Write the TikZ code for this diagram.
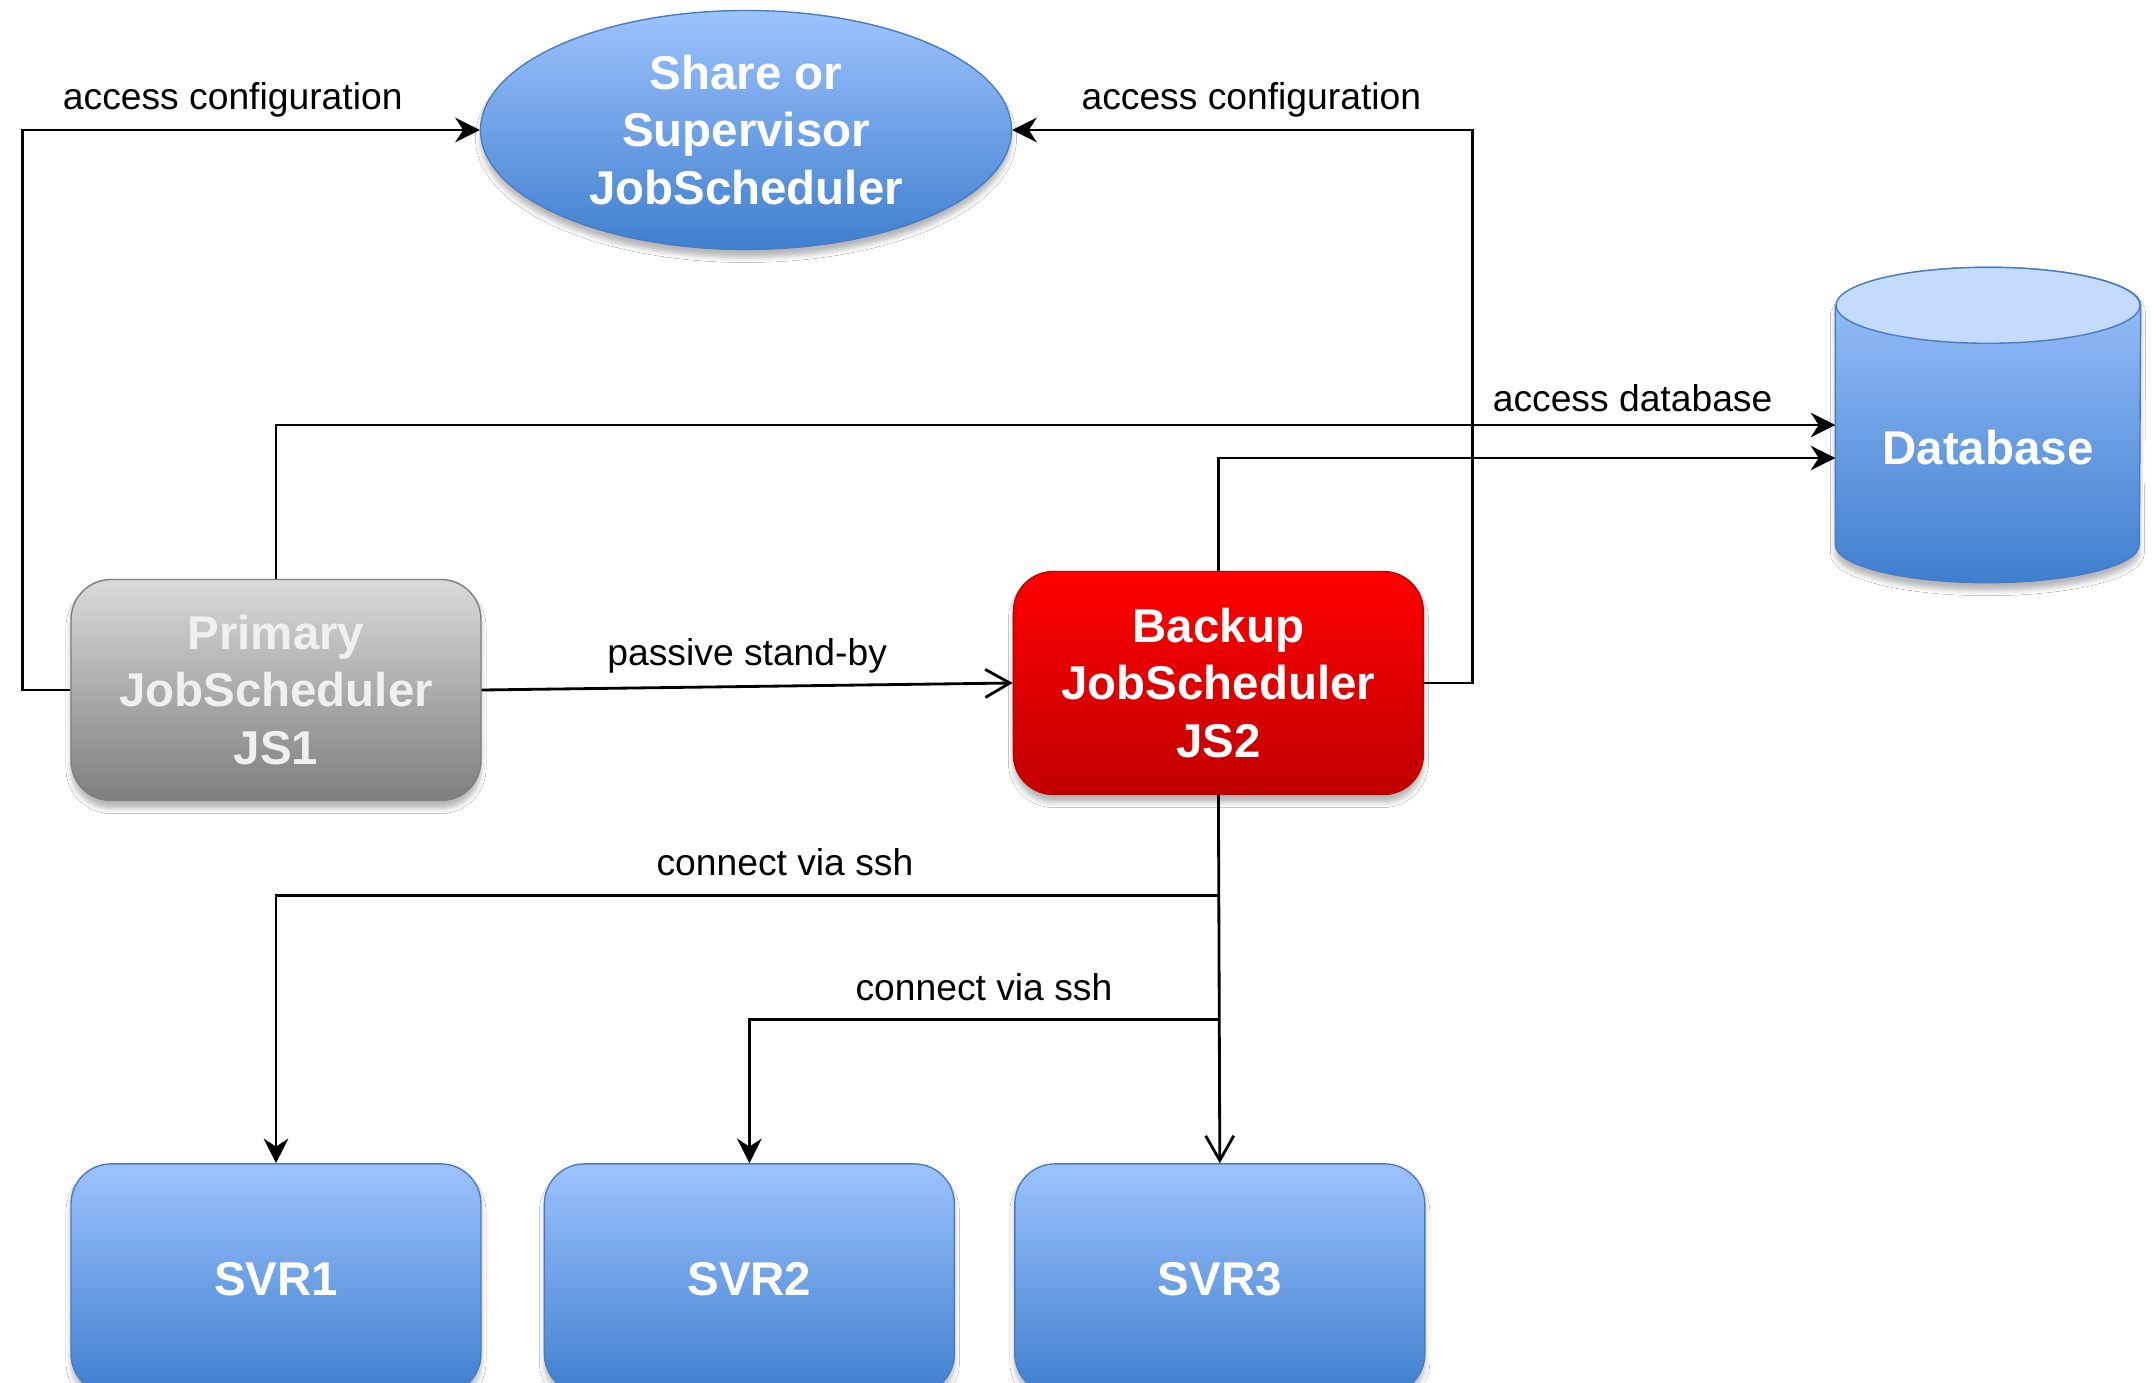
\documentclass[tikz,border=0pt]{standalone}
\usepackage{fontspec}
\setmainfont{Liberation Sans}
\usetikzlibrary{shapes.geometric, arrows.meta, calc, positioning, shadows.blur, backgrounds}
\definecolor{blueTop}{HTML}{9DC3FD}
\definecolor{blueBottom}{HTML}{3F7FCE}
\definecolor{blueEdge}{HTML}{4A7BC4}
\definecolor{blueLid}{HTML}{C3DBFD}
\definecolor{greyTop}{HTML}{DADADA}
\definecolor{greyBottom}{HTML}{7E7E7E}
\definecolor{redTop}{HTML}{FF0000}
\definecolor{redBottom}{HTML}{C00000}
\newcommand{\boxfont}{\fontsize{13.5}{16.4}\selectfont\bfseries}
\tikzstyle{softshadow} = [blur shadow={shadow xshift=0pt, shadow yshift=-0.08cm, shadow blur radius=0.05cm, shadow blur steps=5, shadow opacity=28}]
\tikzstyle{job} = [rectangle, rounded corners=0.4cm, minimum width=4.1cm, minimum height=2.21cm, align=center, text=white, font=\boxfont, softshadow]
\tikzstyle{server} = [job, draw=blueEdge, top color=blueTop, bottom color=blueBottom, minimum height=2.3cm]
\tikzstyle{linktext} = [font=\fontsize{10.6}{12.7}\selectfont, above]
\tikzstyle{arrow} = [line width=0.8pt, -{Stealth[length=7pt, width=7pt]}]
\tikzstyle{openarrow} = [line width=0.8pt, -{Straight Barb[length=7pt, width=8pt]}]

\begin{document}
\begin{tikzpicture}
	\useasboundingbox (0,0) rectangle (21.56,-13.83);
	\node (Share) [ellipse, draw=blueEdge, top color=blueTop, bottom color=blueBottom, minimum width=5.31cm, minimum height=2.39cm, inner sep=0pt, align=center, text=white, font=\boxfont, softshadow] at (7.46,-1.30) {Share or\\Supervisor\\JobScheduler};
	\node (Primary) [job, draw=greyBottom, top color=greyTop, bottom color=greyBottom, text=white!94!black] at (2.76,-6.90) {Primary\\JobScheduler\\JS1};
	\node (Backup) [job, draw=redBottom, top color=redTop, bottom color=redBottom, minimum height=2.23cm, right=5.31cm of Primary, yshift=0.07cm] {Backup\\JobScheduler\\JS2};
	\node (SVR1) [server, below=3.62cm of Primary] {SVR1};
	\node (SVR2) [server, right=0.62cm of SVR1] {SVR2};
	\node (SVR3) [server, right=0.59cm of SVR2] {SVR3};
	\node (Database) [rectangle, minimum width=3.04cm, minimum height=3.14cm, text height=0.78cm, text depth=0pt, text=white, font=\boxfont] at (19.88,-4.25) {Database};
	\begin{scope}[on background layer]
		\fill[white] (0,0) rectangle (21.56,-13.83);
		\path[softshadow, draw=blueEdge, top color=blueTop, bottom color=blueBottom] ($(Database.north west)+(0,-0.38)$) -- ($(Database.south west)+(0,0.38)$) arc[start angle=180, end angle=360, x radius=1.52cm, y radius=0.38cm] -- ($(Database.north east)+(0,-0.38)$) arc[start angle=0, end angle=180, x radius=1.52cm, y radius=0.38cm] -- cycle;
		\path[draw=blueEdge, fill=blueLid] ($(Database.north)+(0,-0.38)$) ellipse [x radius=1.52cm, y radius=0.38cm];
	\end{scope}
	\draw[arrow] (Primary.west) -- ++(-0.48,0) |- (Share.west) node[linktext, pos=0.73] {access configuration};
	\draw[arrow] (Backup.east) -- ++(0.48,0) |- (Share.east) node[linktext, pos=0.74] {access configuration};
	\draw[arrow] (Primary.north) |- (Database.west) node[linktext, pos=0.935] {access database};
	\draw[arrow] (Backup.north) |- ([yshift=-0.33cm]Database.west);
	\draw[openarrow] (Primary.east) -- (Backup.west) node[linktext, midway] {passive stand-by};
	\coordinate (Fork1) at ($(Backup.south)+(0,-1.0)$);
	\coordinate (Fork2) at ($(Backup.south)+(0,-2.24)$);
	\draw[openarrow] (Backup.south) -- (SVR3.north);
	\draw[arrow] (Fork1) -| (SVR1.north) node[linktext, pos=0.23, yshift=0.06cm] {connect via ssh};
	\draw[arrow] (Fork2) -| (SVR2.north) node[linktext, pos=0.25, yshift=0.05cm] {connect via ssh};
\end{tikzpicture}
\end{document}
